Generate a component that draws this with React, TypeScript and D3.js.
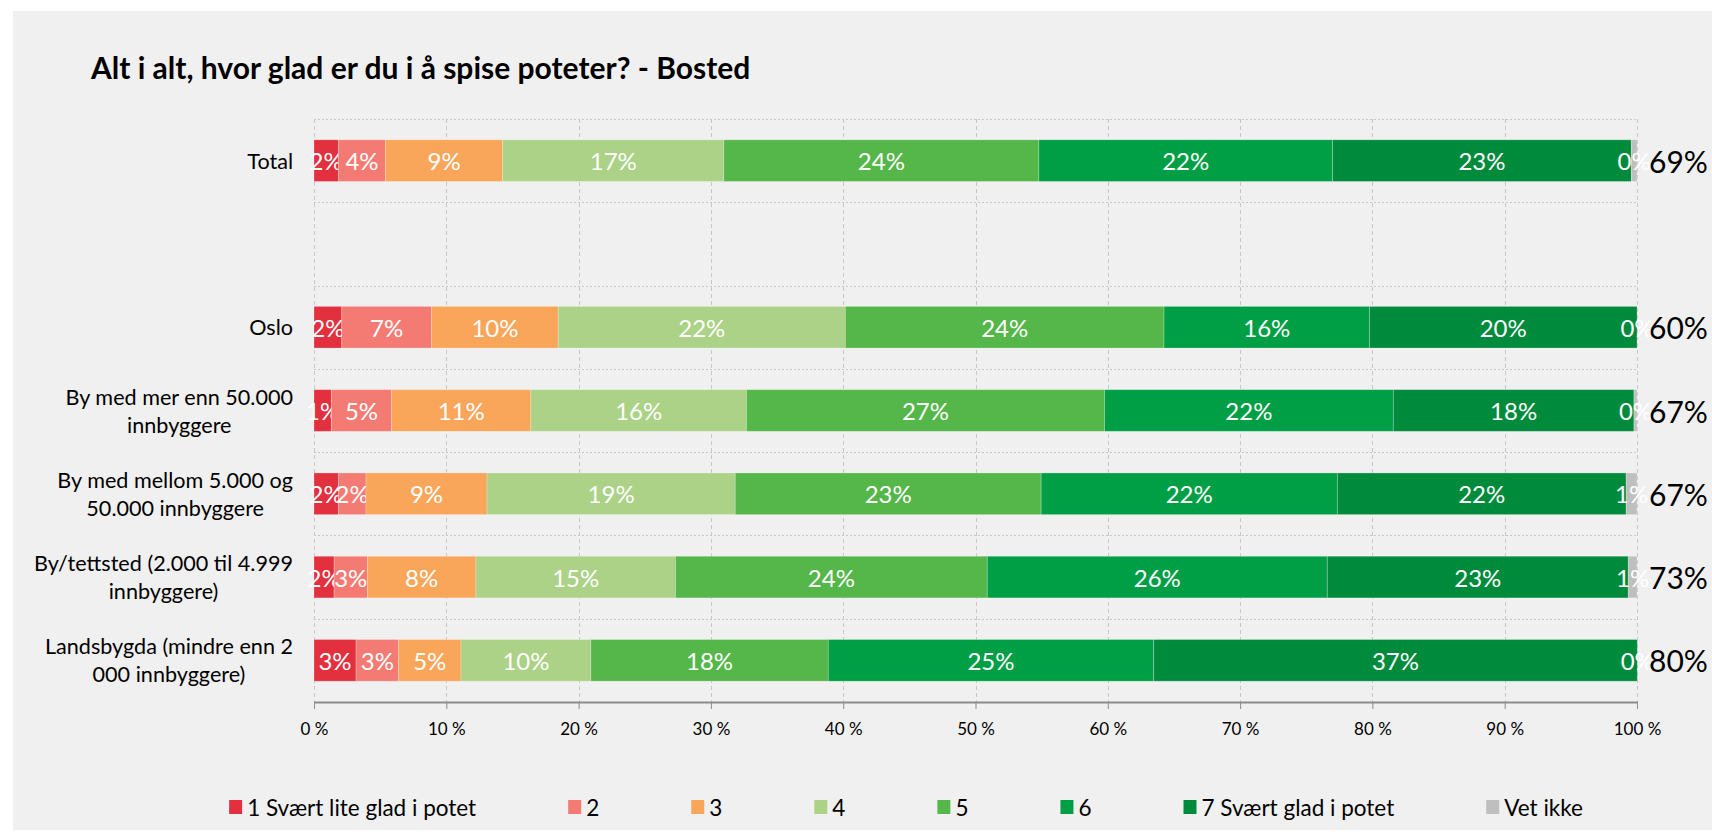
import React, { useEffect, useRef } from 'react';
import * as d3 from 'd3';

// rows of the chart (the blank entry is the empty gap row under Total)
const groups = [
  'Total',
  'Oslo',
  'By med mer enn 50.000\ninnbyggere',
  'By med mellom 5.000 og\n50.000 innbyggere',
  'By/tettsted (2.000 til 4.999\ninnbyggere)',
  'Landsbygda (mindre enn 2\n000 innbyggere)',
];
const rowOrder = ['Total', '', ...groups.slice(1)];

const answerKeys = [
  '1 Svært lite glad i potet',
  '2',
  '3',
  '4',
  '5',
  '6',
  '7 Svært glad i potet',
  'Vet ikke',
];

// share (%) per answer, one value per group
const answer1 = [1.84, 2.1, 1.31, 1.84, 1.52, 3.18];
const answer2 = [3.57, 6.79, 4.56, 2.09, 2.52, 3.21];
const answer3 = [8.85, 9.57, 10.52, 9.15, 8.2, 4.72];
const answer4 = [16.72, 21.7, 16.3, 18.76, 15.08, 9.82];
const answer5 = [23.81, 24.09, 27.06, 23.12, 23.57, 17.94];
const answer6 = [22.2, 15.53, 21.83, 22.39, 25.7, 24.6];
const answer7 = [22.58, 20.22, 18.19, 21.83, 22.75, 36.55];
const dontKnow = [0.43, 0.0, 0.23, 0.82, 0.66, 0.0];

// sum of 5-7 shown at the right of each bar
const topThree = [69, 60, 67, 67, 73, 80];

const xTicks = [0, 10, 20, 30, 40, 50, 60, 70, 80, 90, 100];

const colors = ['#e2303f', '#f47b73', '#f9a65a', '#abd286', '#55b649', '#009f45', '#008a3c', '#bfbfbf'];

const FONT = 'Lato, "Open Sans", sans-serif';

const App = () => {
  const svgRef = useRef<SVGSVGElement>(null);

  const width = 1712;
  const height = 832;

  useEffect(() => {
    const root = d3.select(svgRef.current);
    root.selectAll('*').remove();

    const margin = { top: 119, left: 314, right: 75, bottom: 130 };
    const plotRight = width - margin.right;
    const plotBottom = height - margin.bottom;

    const series = [answer1, answer2, answer3, answer4, answer5, answer6, answer7, dontKnow];
    const table = groups.map((g, i) => {
      const row: any = { group: g };
      answerKeys.forEach((k, j) => (row[k] = series[j][i]));
      return row;
    });
    const stacked = d3.stack<any>().keys(answerKeys)(table);

    const x = d3.scaleLinear().domain([0, 100]).range([margin.left, plotRight]);
    const y = d3.scaleBand()
      .domain(rowOrder)
      .range([margin.top, plotBottom])
      .paddingInner(0.5)
      .paddingOuter(0.25);
    const color = d3.scaleOrdinal<string, string>().domain(answerKeys).range(colors);

    // background panel
    root.append('rect')
      .attr('x', 13).attr('y', 11)
      .attr('width', width - 13).attr('height', height - 13)
      .attr('fill', '#f0f0f0');

    // title
    root.append('text')
      .attr('x', 91).attr('y', 79)
      .attr('font-family', FONT)
      .attr('font-weight', 700)
      .attr('font-size', 30)
      .attr('fill', '#000')
      .text('Alt i alt, hvor glad er du i å spise poteter? - Bosted');

    // grid
    const step = y.step();
    const hLines = d3.range(rowOrder.length).map(i => margin.top + i * step);
    root.append('g').selectAll('line')
      .data(hLines)
      .join('line')
      .attr('x1', margin.left).attr('x2', plotRight)
      .attr('y1', d => Math.round(d) + 0.5).attr('y2', d => Math.round(d) + 0.5)
      .attr('stroke', '#c8c8c8')
      .attr('stroke-dasharray', '2 2');

    root.append('g').selectAll('line')
      .data(xTicks)
      .join('line')
      .attr('x1', d => Math.round(x(d)) + 0.5).attr('x2', d => Math.round(x(d)) + 0.5)
      .attr('y1', margin.top).attr('y2', plotBottom)
      .attr('stroke', '#c8c8c8')
      .attr('stroke-dasharray', '4 3');

    // bars
    const layers = root.append('g').selectAll('g')
      .data(stacked)
      .join('g')
      .attr('fill', d => color(d.key));

    layers.selectAll('rect')
      .data(d => d)
      .join('rect')
      .attr('x', d => x(d[0]))
      .attr('y', d => y(d.data.group)!)
      .attr('width', d => Math.max(0, x(d[1]) - x(d[0])))
      .attr('height', y.bandwidth())
      .attr('stroke', 'rgba(255,255,255,0.3)')
      .attr('stroke-width', 0.8);

    // value labels
    layers.selectAll('text')
      .data(d => d)
      .join('text')
      .attr('x', d => (x(d[0]) + x(d[1])) / 2)
      .attr('y', d => y(d.data.group)! + y.bandwidth() / 2)
      .attr('text-anchor', 'middle')
      .attr('dominant-baseline', 'central')
      .attr('font-family', FONT)
      .attr('font-size', 24)
      .attr('fill', '#fff')
      .text(d => `${Math.round(d[1] - d[0])}%`);

    // top-three sums on the right
    root.append('g').selectAll('text')
      .data(groups)
      .join('text')
      .attr('x', plotRight + 12)
      .attr('y', (g) => y(g)! + y.bandwidth() / 2)
      .attr('dominant-baseline', 'central')
      .attr('font-family', FONT)
      .attr('font-size', 30)
      .attr('fill', '#000')
      .text((_, i) => `${topThree[i]}%`);

    // category labels, centred lines, block right-aligned to the axis
    const labelRight = margin.left - 21;
    groups.forEach(g => {
      const lines = g.split('\n');
      const cy = y(g)! + y.bandwidth() / 2;
      const lineH = 28;
      const gl = root.append('g');
      const texts = lines.map((ln, i) =>
        gl.append('text')
          .attr('y', cy + (i - (lines.length - 1) / 2) * lineH)
          .attr('dominant-baseline', 'central')
          .attr('text-anchor', 'middle')
          .attr('font-family', FONT)
          .attr('font-size', 21.6)
          .attr('fill', '#000')
          .text(ln)
      );
      const w = d3.max(texts, t => (t.node() as SVGTextElement).getComputedTextLength()) || 0;
      texts.forEach(t => t.attr('x', labelRight - w / 2));
    });

    // x axis
    const axis = root.append('g')
      .attr('transform', `translate(0,${plotBottom})`)
      .call(
        d3.axisBottom(x)
          .tickValues(xTicks)
          .tickSize(7)
          .tickSizeOuter(0)
          .tickFormat(d => `${d} %`)
      );
    axis.select('.domain').attr('stroke', '#8c8c8c').attr('stroke-width', 2);
    axis.selectAll('.tick line').attr('stroke', '#8c8c8c');
    axis.selectAll('.tick text')
      .attr('font-family', FONT)
      .attr('font-size', 17)
      .attr('fill', '#000')
      .attr('y', 21);

    // legend
    const legend = root.append('g');
    const items = answerKeys.map(k => {
      const it = legend.append('g');
      it.append('rect').attr('width', 13).attr('height', 14).attr('y', -7).attr('fill', color(k));
      const t = it.append('text')
        .attr('x', 18)
        .attr('dominant-baseline', 'central')
        .attr('font-family', FONT)
        .attr('font-size', 22.5)
        .attr('fill', '#000')
        .text(k);
      return { it, w: 18 + (t.node() as SVGTextElement).getComputedTextLength() };
    });
    const gap = 92;
    const total = d3.sum(items, d => d.w) + gap * (items.length - 1);
    let lx = 906 - total / 2;
    items.forEach(d => {
      d.it.attr('transform', `translate(${lx},807)`);
      lx += d.w + gap;
    });
  }, []);

  return (
    <svg
      ref={svgRef}
      width={width}
      height={height}
      style={{ position: 'absolute', left: 0, top: 0, background: '#fff' }}
    />
  );
};

export default App;
